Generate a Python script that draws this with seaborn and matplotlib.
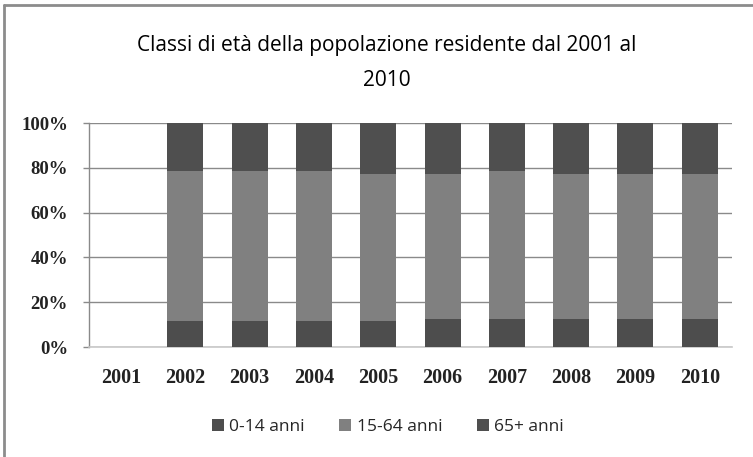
import matplotlib
matplotlib.use("Agg")
import matplotlib.pyplot as plt
from matplotlib.lines import Line2D
from matplotlib.patches import Patch
import seaborn as sns
import pandas as pd

# Percent shares of resident population by age class
years = ["2001", "2002", "2003", "2004", "2005", "2006", "2007", "2008", "2009", "2010"]
pct_0_14 = [0, 11.4, 11.5, 11.5, 11.5, 12.5, 12.5, 12.5, 12.5, 12.6]
pct_15_64 = [0, 67.3, 66.9, 66.9, 65.9, 64.9, 65.9, 64.9, 64.9, 64.8]
pct_65 = [0, 21.3, 21.6, 21.6, 22.6, 22.6, 21.6, 22.6, 22.6, 22.6]
series_names = ["0-14 anni", "15-64 anni", "65+ anni"]
series_colors = ["#4d4d4d", "#808080", "#4f4f4f"]
y_ticks = [0, 20, 40, 60, 80, 100]

df = pd.DataFrame({"anno": years, "a": pct_0_14, "b": pct_15_64, "c": pct_65})
df["cum_a"] = df["a"]
df["cum_b"] = df["a"] + df["b"]
df["cum_c"] = df["a"] + df["b"] + df["c"]

sns.set_theme(style="white")
plt.rcParams["font.family"] = ["Liberation Sans", "DejaVu Sans"]

fig = plt.figure(figsize=(7.53, 4.57), dpi=100)
ax = fig.add_axes([0.118, 0.2407, 0.854, 0.490])

# stacked bars: draw cumulative totals from the top layer down
for col, color in zip(["cum_c", "cum_b", "cum_a"], series_colors[::-1]):
    sns.barplot(data=df, x="anno", y=col, color=color, width=0.56,
                saturation=1, ax=ax, linewidth=0, zorder=3)

ax.set_ylim(0, 100)
ax.set_xlim(-0.5, len(years) - 0.5)
ax.set_yticks(y_ticks)
ax.set_yticklabels([f"{v}%" for v in y_ticks])
ax.set_xlabel("")
ax.set_ylabel("")
ax.yaxis.grid(True, color="#8a8a8a", linewidth=1.0, zorder=0)
ax.set_axisbelow(True)

for side in ["top", "right"]:
    ax.spines[side].set_visible(False)
ax.spines["left"].set_color("#8a8a8a")
ax.spines["left"].set_linewidth(1.0)
ax.spines["bottom"].set_color("#c8c8c8")
ax.spines["bottom"].set_linewidth(1.2)

ax.tick_params(axis="y", left=True, length=4, width=1, color="#8a8a8a", pad=11,
               labelsize=13.5, labelcolor="#222222")
ax.tick_params(axis="x", bottom=False, pad=9, labelsize=14.5, labelcolor="#222222")
for lbl in ax.get_yticklabels() + ax.get_xticklabels():
    lbl.set_fontfamily("Liberation Serif")
    lbl.set_fontweight("bold")

fig.text(0.514, 0.862, "Classi di età della popolazione residente dal 2001 al\n2010",
         ha="center", va="center", fontsize=15, color="#000000", linespacing=1.85,
         family="Open Sans", fontweight="medium")

handles = [Patch(facecolor=c, edgecolor="none") for c in series_colors]
fig.legend(handles, series_names, loc="center", bbox_to_anchor=(0.515, 0.066),
           ncol=3, frameon=False, handlelength=0.7, handleheight=0.7,
           handletextpad=0.3, columnspacing=2.0, prop={"family": "Open Sans", "size": 12.5})

# chart area border (top and left edges)
fig.add_artist(Line2D([4 / 753, 4 / 753], [0, 1 - 5 / 457], transform=fig.transFigure,
                      color="#8c8c8c", linewidth=2))
fig.add_artist(Line2D([4 / 753, 1], [1 - 5 / 457, 1 - 5 / 457], transform=fig.transFigure,
                      color="#8c8c8c", linewidth=2))

fig.savefig("out.png", dpi=100, facecolor="white")
